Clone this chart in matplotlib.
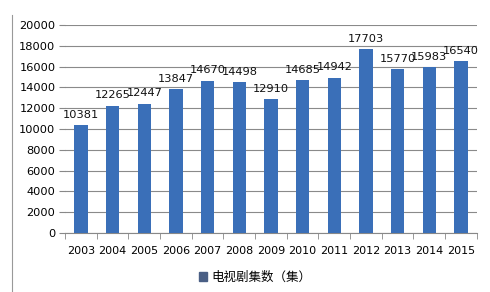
import matplotlib.pyplot as plt
from matplotlib.lines import Line2D
import numpy as np

years = ["2003", "2004", "2005", "2006", "2007", "2008", "2009",
         "2010", "2011", "2012", "2013", "2014", "2015"]
episodes = [10381, 12265, 12447, 13847, 14670, 14498, 12910,
            14685, 14942, 17703, 15770, 15983, 16540]
series_name = "电视剧集数（集）"

plt.rcParams['font.family'] = ['DejaVu Sans']

fig = plt.figure(figsize=(4.9, 2.92), dpi=100)
ax = fig.add_axes([0.133, 0.202, 0.84, 0.712])

x = np.arange(len(years))
bars = ax.bar(x, episodes, width=0.42, color="#3a6fb8", zorder=3,
              label=series_name)

for xi, v in zip(x, episodes):
    ax.text(xi, v + 500, str(v), ha="center", va="bottom", fontsize=8.2,
            color="#111111", zorder=4)

ax.set_xlim(-0.5, len(years) - 0.5)
ax.set_ylim(0, 20000)
ax.set_yticks(np.arange(0, 20001, 2000))
ax.set_xticks(x)
ax.set_xticklabels(years)
ax.set_xticks(np.arange(-0.5, len(years), 1), minor=True)
ax.tick_params(axis="x", which="major", length=0, labelsize=8.0, pad=9)
ax.tick_params(axis="x", which="minor", length=4, color="#888888")
ax.tick_params(axis="y", length=4, color="#888888", labelsize=8.2, pad=3)

ax.grid(axis="y", color="#8a8a8a", linewidth=0.8, zorder=0)
for s in ["top", "right", "left"]:
    ax.spines[s].set_visible(False)
ax.spines["bottom"].set_color("#888888")

# outer frame line on the left
fig.add_artist(Line2D([0.025, 0.025], [0.0, 0.95], color="#999999",
                      linewidth=0.8))

leg = fig.legend(handles=[bars], labels=[series_name], loc="center",
                 bbox_to_anchor=(0.52, 0.05), frameon=False,
                 handlelength=0.7, handleheight=0.7, handletextpad=0.3,
                 prop={"family": ["Noto Sans CJK SC", "DejaVu Sans"], "size": 9})
leg.legend_handles[0].set_color("#4a5f85")

fig.savefig("out.png", dpi=100)
